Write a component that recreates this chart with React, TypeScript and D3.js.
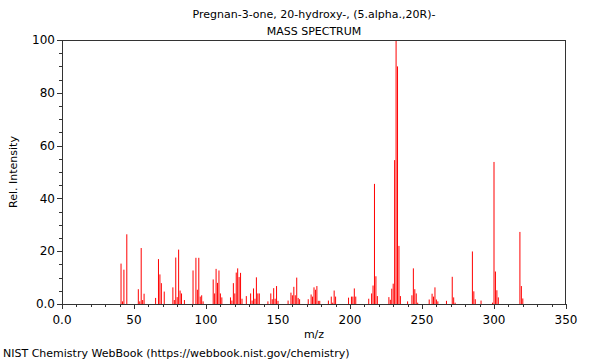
import React from 'react'
import * as d3 from 'd3'

// peaks, m/z and relative intensity
const masses = [
  41, 42, 43, 45, 53, 54, 55, 56, 57, 65, 67, 68, 69, 71, 77, 78, 79, 80, 81, 82, 83, 85,
  91, 93, 94, 95, 96, 97, 98, 105, 106, 107, 108, 109, 110, 111, 117, 118, 119, 120, 121,
  122, 123, 124, 125, 128, 131, 132, 133, 134, 135, 136, 137, 143, 145, 146, 147, 148, 149,
  150, 157, 159, 160, 161, 162, 163, 164, 165, 171, 173, 174, 175, 176, 177, 178, 179, 185,
  187, 188, 189, 190, 199, 201, 202, 203, 204, 213, 215, 216, 217, 218, 219, 227, 228, 229,
  230, 231, 232, 233, 234, 235, 240, 243, 244, 245, 246, 247, 255, 257, 258, 259, 260, 261,
  267, 271, 272, 273, 285, 286, 287, 291, 299, 300, 301, 302, 303, 318, 319, 320,
]
const intensities = [
  15.3, 1, 13, 26.4, 5.6, 1, 21.2, 1.5, 3.9, 2.3, 17, 11.2, 7.9, 4.7, 6.3, 1.5, 17.6, 2.6, 20.6, 5.1, 4, 1.5,
  12.7, 17.5, 5.4, 17.5, 2.8, 3.3, 1, 9.3, 4, 13.3, 8, 12.7, 4, 2.5, 2.5, 1.3, 7.9, 4, 11.9,
  13.5, 10.2, 11.8, 2, 3, 4, 1.3, 5.9, 2, 10.1, 4, 4, 1, 4, 1.8, 6, 2, 6.8,
  1.2, 1.3, 4.3, 3.3, 6.5, 3.3, 10, 2.3, 1.8, 1.8, 3.6, 2.8, 6.3, 5.4, 6.8, 1.2, 1.2, 1.3,
  2.8, 0.5, 5.1, 2.8, 2.4, 2.8, 2.8, 5.9, 2.8, 2, 4, 7, 45.5, 10.5, 3, 2.6, 1.6, 5.8,
  7.7, 54.5, 100, 90, 22, 3, 1, 3.3, 13.5, 5.6, 4, 0.5, 1.7, 3.9, 2.8, 6.3, 1.7, 1,
  1.2, 10.3, 2.5, 0.5, 19.9, 4.8, 1.8, 1.3, 0.5, 53.8, 12.3, 5.2, 2.5, 27.3, 6.8, 2.1,
]

const xMajorTicks = [0, 50, 100, 150, 200, 250, 300, 350]
const yMajorTicks = [0, 20, 40, 60, 80, 100]

const title = 'Pregnan-3-one, 20-hydroxy-, (5.alpha.,20R)-'
const subtitle = 'MASS SPECTRUM'
const xTitle = 'm/z'
const yTitle = 'Rel. Intensity'
const footer = 'NIST Chemistry WebBook (https://webbook.nist.gov/chemistry)'

export default function App() {
  const width = 600,
    height = 360,
    left = 62,
    right = 566,
    top = 40,
    bottom = 304

  const x = d3.scaleLinear().domain([0, 350]).range([left, right])
  const y = d3.scaleLinear().domain([0, 100]).range([bottom, top])

  const xMinor = d3.range(0, 351, 10).filter(v => v % 50 !== 0)
  const yMinor = d3.range(0, 101, 5).filter(v => v % 20 !== 0)
  const fmt = (v: number) => (v === 0 ? '0.0' : String(v))

  const font = "'DejaVu Sans', sans-serif"
  const axisColor = '#333'

  return (
    <div style={{position: 'absolute', left: 0, top: 0}}>
      <svg width={width} height={height} style={{display: 'block'}} fontFamily={font} fontSize={11}>
        <rect x={0} y={0} width={width} height={height} fill="#fff" />

        <text x={314} y={18} textAnchor="middle" fill="#000">{title}</text>
        <text x={314} y={35} textAnchor="middle" fill="#000">{subtitle}</text>

        {masses.map((m, i) => (
          <line
            key={m}
            x1={x(m)}
            x2={x(m)}
            y1={y(0)}
            y2={y(intensities[i])}
            stroke="#ff0000"
            strokeWidth={1}
          />
        ))}

        <rect
          x={left + 0.5}
          y={top + 0.5}
          width={right - left - 1}
          height={bottom - top}
          fill="none"
          stroke={axisColor}
          strokeWidth={1}
        />

        {/* y axis */}
        {yMajorTicks.map(v => (
          <g key={'y' + v}>
            <line x1={left - 5} x2={left} y1={Math.round(y(v)) + 0.5} y2={Math.round(y(v)) + 0.5} stroke={axisColor} />
            <text x={left - 7} y={y(v)} dy="0.35em" textAnchor="end" fontSize={12} fill="#000">{fmt(v)}</text>
          </g>
        ))}
        {yMinor.map(v => (
          <line key={'ym' + v} x1={left - 3} x2={left} y1={Math.round(y(v)) + 0.5} y2={Math.round(y(v)) + 0.5} stroke={axisColor} />
        ))}
        <text
          transform={`translate(13,${(top + bottom) / 2}) rotate(-90)`}
          textAnchor="middle"
          dy="0.35em"
          fill="#000"
        >
          {yTitle}
        </text>

        {/* x axis */}
        {xMajorTicks.map(v => (
          <g key={'x' + v}>
            <line x1={Math.round(x(v)) + 0.5} x2={Math.round(x(v)) + 0.5} y1={bottom} y2={bottom + 5} stroke={axisColor} />
            <text x={x(v)} y={324} textAnchor="middle" fontSize={12} fill="#000">{fmt(v)}</text>
          </g>
        ))}
        {xMinor.map(v => (
          <line key={'xm' + v} x1={Math.round(x(v)) + 0.5} x2={Math.round(x(v)) + 0.5} y1={bottom} y2={bottom + 3} stroke={axisColor} />
        ))}
        <text x={314} y={338} textAnchor="middle" fill="#000">{xTitle}</text>

        <text x={3} y={357} fill="#000">{footer}</text>
      </svg>
    </div>
  )
}
